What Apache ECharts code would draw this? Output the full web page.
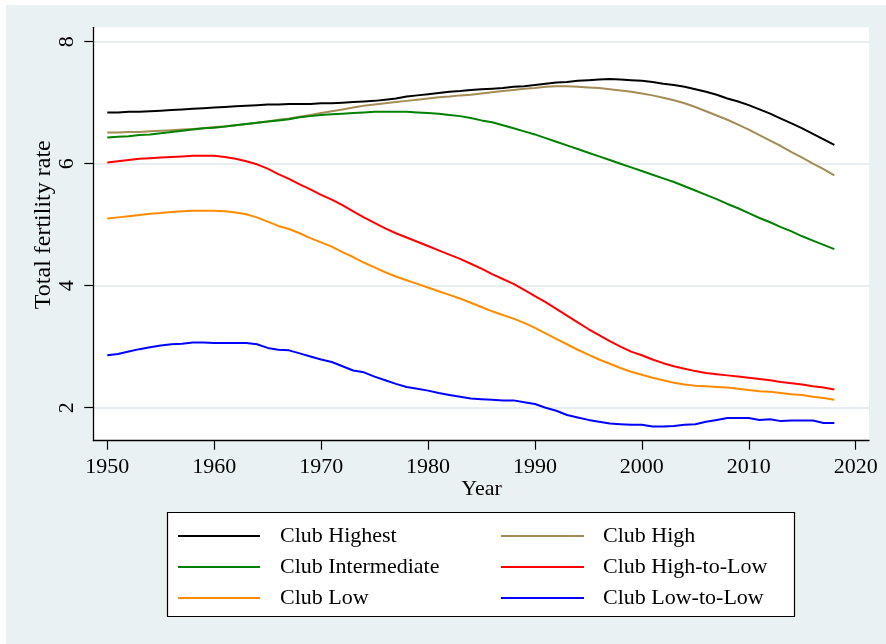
<!DOCTYPE html>
<html>
<head>
<meta charset="utf-8">
<title>Total fertility rate by club</title>
<script src="https://cdn.jsdelivr.net/npm/echarts@6/dist/echarts.min.js"></script>
<style>
  html, body { margin: 0; padding: 0; background: #ffffff; }
  #chart { width: 886px; height: 644px; }
</style>
</head>
<body>
<div id="chart"></div>
<script>
// Years of observation
const years = [
  1950, 1951, 1952, 1953, 1954, 1955, 1956, 1957, 1958, 1959,
  1960, 1961, 1962, 1963, 1964, 1965, 1966, 1967, 1968, 1969,
  1970, 1971, 1972, 1973, 1974, 1975, 1976, 1977, 1978, 1979,
  1980, 1981, 1982, 1983, 1984, 1985, 1986, 1987, 1988, 1989,
  1990, 1991, 1992, 1993, 1994, 1995, 1996, 1997, 1998, 1999,
  2000, 2001, 2002, 2003, 2004, 2005, 2006, 2007, 2008, 2009,
  2010, 2011, 2012, 2013, 2014, 2015, 2016, 2017, 2018
];

// Total fertility rate, one value per year, per club
const clubHighest = [
  6.84, 6.84, 6.85, 6.85, 6.86, 6.87, 6.88, 6.89, 6.90, 6.91,
  6.92, 6.93, 6.94, 6.95, 6.96, 6.97, 6.97, 6.98, 6.98, 6.98,
  6.99, 6.99, 7.00, 7.01, 7.02, 7.03, 7.05, 7.07, 7.10, 7.12,
  7.14, 7.16, 7.18, 7.19, 7.21, 7.22, 7.23, 7.24, 7.26, 7.27,
  7.29, 7.31, 7.33, 7.34, 7.36, 7.37, 7.38, 7.39, 7.38, 7.37,
  7.36, 7.34, 7.31, 7.29, 7.26, 7.22, 7.18, 7.13, 7.07, 7.02,
  6.96, 6.89, 6.82, 6.74, 6.66, 6.58, 6.49, 6.40, 6.31
];
const clubHigh = [
  6.51, 6.51, 6.52, 6.52, 6.53, 6.54, 6.55, 6.56, 6.57, 6.58,
  6.60, 6.61, 6.63, 6.65, 6.67, 6.69, 6.72, 6.74, 6.77, 6.80,
  6.83, 6.86, 6.89, 6.92, 6.95, 6.97, 6.99, 7.01, 7.03, 7.05,
  7.07, 7.09, 7.10, 7.12, 7.13, 7.15, 7.17, 7.19, 7.21, 7.23,
  7.24, 7.26, 7.27, 7.27, 7.26, 7.25, 7.24, 7.22, 7.20, 7.18,
  7.15, 7.12, 7.08, 7.04, 6.99, 6.93, 6.86, 6.79, 6.72, 6.64,
  6.56, 6.47, 6.38, 6.29, 6.19, 6.10, 6.00, 5.91, 5.81
];
const clubIntermediate = [
  6.43, 6.44, 6.45, 6.47, 6.48, 6.50, 6.52, 6.54, 6.56, 6.58,
  6.59, 6.61, 6.63, 6.65, 6.67, 6.69, 6.71, 6.73, 6.76, 6.78,
  6.80, 6.81, 6.82, 6.83, 6.84, 6.85, 6.85, 6.85, 6.85, 6.84,
  6.83, 6.82, 6.80, 6.78, 6.75, 6.71, 6.68, 6.63, 6.58, 6.53,
  6.48, 6.42, 6.36, 6.30, 6.24, 6.18, 6.12, 6.06, 6.00, 5.94,
  5.88, 5.82, 5.76, 5.70, 5.63, 5.56, 5.49, 5.42, 5.34, 5.27,
  5.19, 5.11, 5.04, 4.96, 4.89, 4.81, 4.74, 4.67, 4.60
];
const clubHighToLow = [
  6.02, 6.04, 6.06, 6.08, 6.09, 6.10, 6.11, 6.12, 6.13, 6.13,
  6.13, 6.11, 6.08, 6.04, 5.99, 5.92, 5.83, 5.75, 5.66, 5.58,
  5.49, 5.41, 5.32, 5.22, 5.12, 5.03, 4.94, 4.86, 4.79, 4.72,
  4.65, 4.58, 4.51, 4.44, 4.36, 4.28, 4.19, 4.11, 4.03, 3.93,
  3.83, 3.73, 3.62, 3.51, 3.40, 3.29, 3.19, 3.09, 3.00, 2.92,
  2.86, 2.79, 2.73, 2.68, 2.64, 2.60, 2.57, 2.55, 2.53, 2.51,
  2.49, 2.47, 2.45, 2.42, 2.40, 2.38, 2.35, 2.33, 2.30
];
const clubLow = [
  5.10, 5.12, 5.14, 5.16, 5.18, 5.19, 5.21, 5.22, 5.23, 5.23,
  5.23, 5.22, 5.20, 5.17, 5.12, 5.05, 4.98, 4.93, 4.86, 4.78,
  4.71, 4.64, 4.55, 4.47, 4.38, 4.30, 4.22, 4.15, 4.09, 4.03,
  3.97, 3.91, 3.85, 3.79, 3.72, 3.65, 3.58, 3.52, 3.46, 3.39,
  3.31, 3.22, 3.13, 3.04, 2.95, 2.87, 2.79, 2.72, 2.65, 2.59,
  2.54, 2.49, 2.45, 2.41, 2.38, 2.36, 2.35, 2.34, 2.33, 2.31,
  2.29, 2.27, 2.26, 2.24, 2.22, 2.21, 2.18, 2.16, 2.13
];
const clubLowToLow = [
  2.86, 2.88, 2.92, 2.96, 2.99, 3.02, 3.04, 3.05, 3.07, 3.07,
  3.06, 3.06, 3.06, 3.06, 3.04, 2.98, 2.95, 2.94, 2.89, 2.84,
  2.79, 2.75, 2.68, 2.61, 2.58, 2.51, 2.45, 2.39, 2.34, 2.31,
  2.28, 2.24, 2.21, 2.18, 2.15, 2.14, 2.13, 2.12, 2.12, 2.09,
  2.06, 2.00, 1.95, 1.88, 1.84, 1.80, 1.77, 1.74, 1.73, 1.72,
  1.72, 1.69, 1.69, 1.70, 1.72, 1.73, 1.77, 1.80, 1.83, 1.83,
  1.83, 1.80, 1.81, 1.78, 1.79, 1.79, 1.79, 1.75, 1.75
];

// Axis ticks
const xTicks = [1950, 1960, 1970, 1980, 1990, 2000, 2010, 2020];
const yTicks = [2, 4, 6, 8];

const clubNames = [
  'Club Highest', 'Club High', 'Club Intermediate',
  'Club High-to-Low', 'Club Low', 'Club Low-to-Low'
];
const clubValues = [clubHighest, clubHigh, clubIntermediate, clubHighToLow, clubLow, clubLowToLow];
const clubColors = ['#000000', '#A38C55', '#008200', '#FF0000', '#FF8C00', '#0000FF'];

const FONT = '"Liberation Serif", "DejaVu Serif", serif';
const BG = '#EAF1F3';
const W = 886, H = 644;

// Pixel frame of the plot
const plotL = 93.3, plotR = 869, plotT = 27.3, plotB = 440.7;
const dataL = 107.3, dataR = 855.7, dataT = 41.7, dataB = 407.7;

const chart = echarts.init(document.getElementById('chart'), null, { renderer: 'canvas' });

const series = clubNames.map((name, i) => ({
  name: name,
  type: 'line',
  xAxisIndex: 0,
  yAxisIndex: 0,
  data: years.map((y, k) => [y, clubValues[i][k]]),
  showSymbol: false,
  symbol: 'none',
  clip: false,
  smooth: false,
  lineStyle: { color: clubColors[i], width: 2 },
  itemStyle: { color: clubColors[i] },
  z: 3
}));

const legendCommon = {
  orient: 'vertical',
  icon: 'rect',
  itemHeight: 2,
  itemGap: 7,
  padding: 0,
  selectedMode: false,
  textStyle: {
    fontFamily: FONT, fontSize: 22, color: '#000',
    lineHeight: 24, padding: [0, 0, 0, 15]
  }
};

const plainNumber = v => String(v);

const option = {
  backgroundColor: BG,
  animation: false,
  graphic: [
    { type: 'rect', shape: { x: 0, y: 0, width: W, height: 5 }, style: { fill: '#fff' }, silent: true },
    { type: 'rect', shape: { x: 0, y: 0, width: 6, height: H }, style: { fill: '#fff' }, silent: true },
    {
      type: 'rect',
      shape: { x: 167.5, y: 512.5, width: 627, height: 104 },
      style: { fill: '#fff', stroke: '#000', lineWidth: 1.2 },
      silent: true
    }
  ],
  legend: [
    Object.assign({}, legendCommon, {
      left: 178, top: 524, itemWidth: 82,
      data: ['Club Highest', 'Club Intermediate', 'Club Low']
    }),
    Object.assign({}, legendCommon, {
      left: 501, top: 524, itemWidth: 83,
      data: ['Club High', 'Club High-to-Low', 'Club Low-to-Low'],
      textStyle: Object.assign({}, legendCommon.textStyle, { padding: [0, 0, 0, 14] })
    })
  ],
  grid: [
    // data area: exactly 1950..2020 by 2..8
    { left: dataL, right: W - dataR, top: dataT, bottom: H - dataB, containLabel: false },
    // plot frame with white fill and axis lines
    { left: plotL, right: W - plotR, top: plotT, bottom: H - plotB, show: true,
      backgroundColor: '#ffffff', borderWidth: 0, containLabel: false },
    // horizontal gridlines across the full plot width
    { left: plotL, right: W - plotR, top: dataT, bottom: H - dataB, containLabel: false }
  ],
  xAxis: [
    {
      gridIndex: 0, type: 'value', min: xTicks[0], max: xTicks[xTicks.length - 1], interval: 10,
      offset: plotB - dataB,
      name: 'Year', nameLocation: 'middle', nameGap: 38, nameMoveOverlap: false,
      nameTextStyle: { fontFamily: FONT, fontSize: 22, color: '#000' },
      axisLine: { show: false },
      axisTick: { show: true, length: 9, lineStyle: { color: '#000', width: 1.2 } },
      axisLabel: { fontFamily: FONT, fontSize: 22, color: '#000', margin: 16,
        customValues: xTicks, formatter: plainNumber },
      splitLine: { show: false }
    },
    {
      gridIndex: 1, type: 'value', min: 0, max: 1,
      axisLine: { show: true, lineStyle: { color: '#000', width: 1.3 } },
      axisTick: { show: false }, axisLabel: { show: false }, splitLine: { show: false }
    },
    {
      gridIndex: 2, type: 'value', min: 0, max: 1, show: false
    }
  ],
  yAxis: [
    {
      gridIndex: 0, type: 'value', min: yTicks[0], max: yTicks[yTicks.length - 1], interval: 2,
      offset: dataL - plotL,
      name: 'Total fertility rate', nameLocation: 'middle', nameGap: 38, nameMoveOverlap: false,
      nameTextStyle: { fontFamily: FONT, fontSize: 24, color: '#000' },
      axisLine: { show: false },
      axisTick: { show: true, length: 9, lineStyle: { color: '#000', width: 1.2 } },
      axisLabel: { fontFamily: FONT, fontSize: 22, color: '#000', rotate: 90, margin: 15,
        customValues: yTicks, formatter: plainNumber },
      splitLine: { show: false }
    },
    {
      gridIndex: 1, type: 'value', min: 0, max: 1,
      axisLine: { show: true, lineStyle: { color: '#000', width: 1.3 } },
      axisTick: { show: false }, axisLabel: { show: false }, splitLine: { show: false }
    },
    {
      gridIndex: 2, type: 'value', min: yTicks[0], max: yTicks[yTicks.length - 1], interval: 2,
      axisLine: { show: false }, axisTick: { show: false }, axisLabel: { show: false },
      splitLine: { show: true, lineStyle: { color: '#E6EEF1', width: 2 } }
    }
  ],
  series: series
};

chart.setOption(option);
</script>
</body>
</html>
